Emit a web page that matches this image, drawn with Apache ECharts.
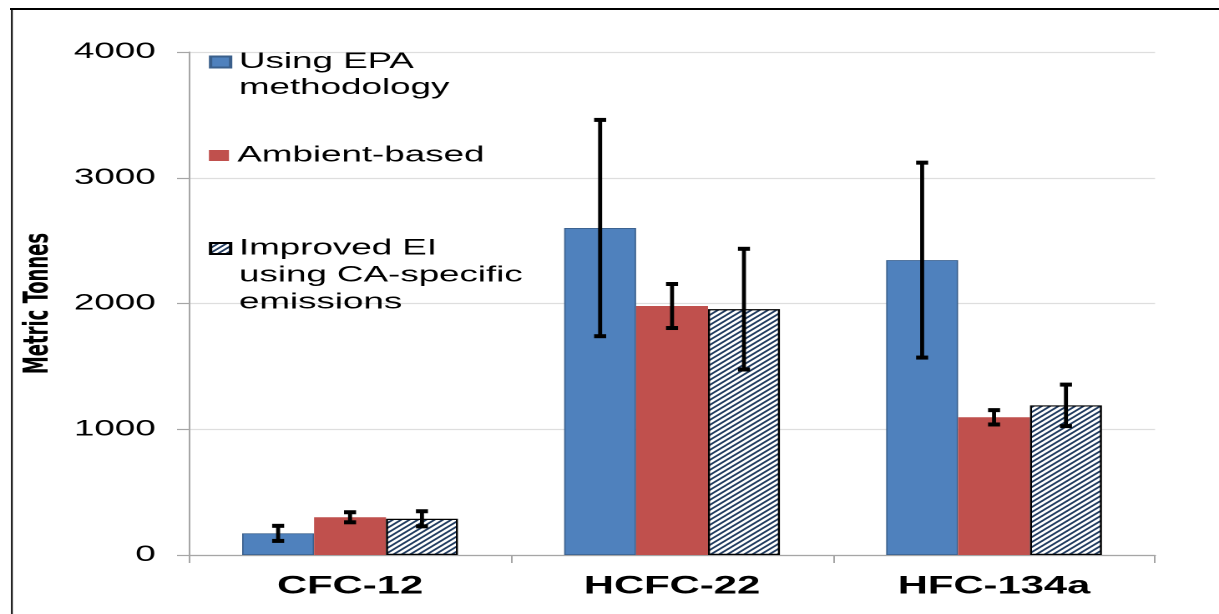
<!DOCTYPE html>
<html>
<head>
<meta charset="utf-8">
<script src="https://cdn.jsdelivr.net/npm/echarts@6/dist/echarts.min.js"></script>
<style>
  html, body { margin: 0; padding: 0; background: #fff; overflow: hidden; }
  #c { width: 730px; height: 614px; transform: scaleX(1.66986); transform-origin: 0 0; }
</style>
</head>
<body>
<div id="c"></div>
<script>
// ---- data ----
const categories = ['CFC-12', 'HCFC-22', 'HFC-134a'];
const seriesNames = ['Using EPA methodology', 'Ambient-based', 'Improved EI using CA-specific emissions'];
const legendLines = [['Using EPA', 'methodology'], ['Ambient-based'], ['Improved EI', 'using CA-specific', 'emissions']];
const epaValues = [172, 2600, 2345];
const epaErrors = [60, 860, 775];
const ambientValues = [300, 1980, 1095];
const ambientErrors = [40, 175, 57];
const improvedValues = [288, 1955, 1190];
const improvedErrors = [60, 480, 165];
const yTicks = [0, 1000, 2000, 3000, 4000];

// ---- styling ----
const GAP = 0.33;
const FONT = "'Liberation Sans', Arial, sans-serif";

function hatchPattern() {
  const k = 4, p = 5;
  const cv = document.createElement('canvas');
  cv.width = cv.height = p * k;
  const ctx = cv.getContext('2d');
  ctx.fillStyle = '#ffffff';
  ctx.fillRect(0, 0, p * k, p * k);
  ctx.strokeStyle = '#1f3a5f';
  ctx.lineWidth = 1.5 * k;
  const s = p * k;
  ctx.beginPath();
  ctx.moveTo(-s, 2 * s); ctx.lineTo(2 * s, -s);
  ctx.moveTo(-s, s); ctx.lineTo(s, -s);
  ctx.moveTo(0, 2 * s); ctx.lineTo(2 * s, 0);
  ctx.stroke();
  return { image: cv, repeat: 'repeat', scaleX: 1 / k, scaleY: 1 / k };
}

function errorSeries(values, errors, k) {
  return {
    type: 'custom',
    z: 10,
    silent: true,
    data: values.map((v, i) => [i, v, errors[i]]),
    encode: { x: 0, y: 1 },
    renderItem: function (params, api) {
      const i = api.value(0), v = api.value(1), e = api.value(2);
      const band = api.size([1, 0])[0];
      const bw = band * (1 - GAP) / 3;
      const c = api.coord([i, v]);
      const x = c[0] + k * bw;
      const top = api.coord([i, v + e])[1];
      const bot = api.coord([i, v - e])[1];
      return {
        type: 'group',
        children: [
          { type: 'line', shape: { x1: x, y1: top, x2: x, y2: bot }, style: { stroke: '#000', lineWidth: 2.4 } },
          { type: 'rect', shape: { x: x - 3.6, y: top - 2, width: 7.2, height: 4 }, style: { fill: '#000' } },
          { type: 'rect', shape: { x: x - 3.6, y: bot - 2, width: 7.2, height: 4 }, style: { fill: '#000' } }
        ]
      };
    }
  };
}

const chart = echarts.init(document.getElementById('c'), null, { renderer: 'canvas', devicePixelRatio: 2 });

// blank lines are prepended so that the first text line sits level with the legend marker
function legendText(name) {
  const lines = legendLines[seriesNames.indexOf(name)];
  const pad = [];
  for (let j = 1; j < lines.length; j++) pad.push('');
  return pad.concat(lines).join('\n');
}

const legendBase = {
  orient: 'vertical',
  left: 125.1,
  padding: 0,
  itemWidth: 12,
  itemHeight: 11,
  selectedMode: false,
  icon: 'rect',
  formatter: legendText
};

const option = {
  backgroundColor: '#ffffff',
  animation: false,
  textStyle: { fontFamily: FONT },
  grid: { left: 113.2, right: 38.3, top: 52, bottom: 59, containLabel: false },
  legend: [
    Object.assign({}, legendBase, {
      top: 23, data: [seriesNames[0]],
      textStyle: { fontFamily: FONT, fontSize: 22, color: '#000', lineHeight: 26 }
    }),
    Object.assign({}, legendBase, {
      top: 142.5, data: [seriesNames[1]],
      textStyle: { fontFamily: FONT, fontSize: 22, color: '#000', lineHeight: 26 }
    }),
    Object.assign({}, legendBase, {
      top: 181, data: [seriesNames[2]],
      textStyle: { fontFamily: FONT, fontSize: 22, color: '#000', lineHeight: 27 }
    })
  ],
  xAxis: {
    type: 'category',
    data: categories,
    axisLine: { show: true, lineStyle: { color: '#a6a6a6', width: 1.2 } },
    axisTick: { show: true, alignWithLabel: false, length: 8, lineStyle: { color: '#a6a6a6', width: 1 } },
    axisLabel: { fontFamily: FONT, fontSize: 25, fontWeight: 'bold', color: '#000', margin: 19 },
    splitLine: { show: false }
  },
  yAxis: {
    type: 'value',
    min: yTicks[0],
    max: yTicks[yTicks.length - 1],
    interval: 1000,
    name: 'Metric Tonnes',
    nameLocation: 'middle',
    nameRotate: 90,
    nameGap: 77,
    nameTextStyle: { fontFamily: "'Liberation Sans Narrow', 'DejaVu Sans Condensed', 'Liberation Sans', sans-serif", fontWeight: 'bold', fontSize: 20, color: '#000' },
    axisLine: { show: true, lineStyle: { color: '#a6a6a6', width: 1 } },
    axisTick: { show: true, length: 7.2, lineStyle: { color: '#a6a6a6', width: 1.2 } },
    axisLabel: { fontFamily: FONT, fontSize: 22, color: '#000', margin: 20, formatter: function (v) { return String(v); } },
    splitLine: { show: true, lineStyle: { color: '#dedede', width: 1.2 } }
  },
  graphic: [
    { type: 'line', silent: true, shape: { x1: 6, y1: 9, x2: 740, y2: 9 }, style: { stroke: '#000', lineWidth: 2 } },
    { type: 'line', silent: true, shape: { x1: 7.1, y1: 8, x2: 7.1, y2: 620 }, style: { stroke: '#000', lineWidth: 1 } }
  ],
  series: [
    {
      name: seriesNames[0], type: 'bar', data: epaValues,
      barGap: '0%', barCategoryGap: (GAP * 100) + '%',
      itemStyle: { color: '#4f81bd', borderColor: '#3a5f8b', borderWidth: 0.8 }
    },
    {
      name: seriesNames[1], type: 'bar', data: ambientValues,
      barGap: '0%', barCategoryGap: (GAP * 100) + '%',
      itemStyle: { color: '#c0504d', borderWidth: 0 }
    },
    {
      name: seriesNames[2], type: 'bar', data: improvedValues,
      barGap: '0%', barCategoryGap: (GAP * 100) + '%',
      itemStyle: { color: hatchPattern(), borderColor: '#000', borderWidth: 1.2 }
    },
    errorSeries(epaValues, epaErrors, -1),
    errorSeries(ambientValues, ambientErrors, 0),
    errorSeries(improvedValues, improvedErrors, 1)
  ]
};

chart.setOption(option);
</script>
</body>
</html>
